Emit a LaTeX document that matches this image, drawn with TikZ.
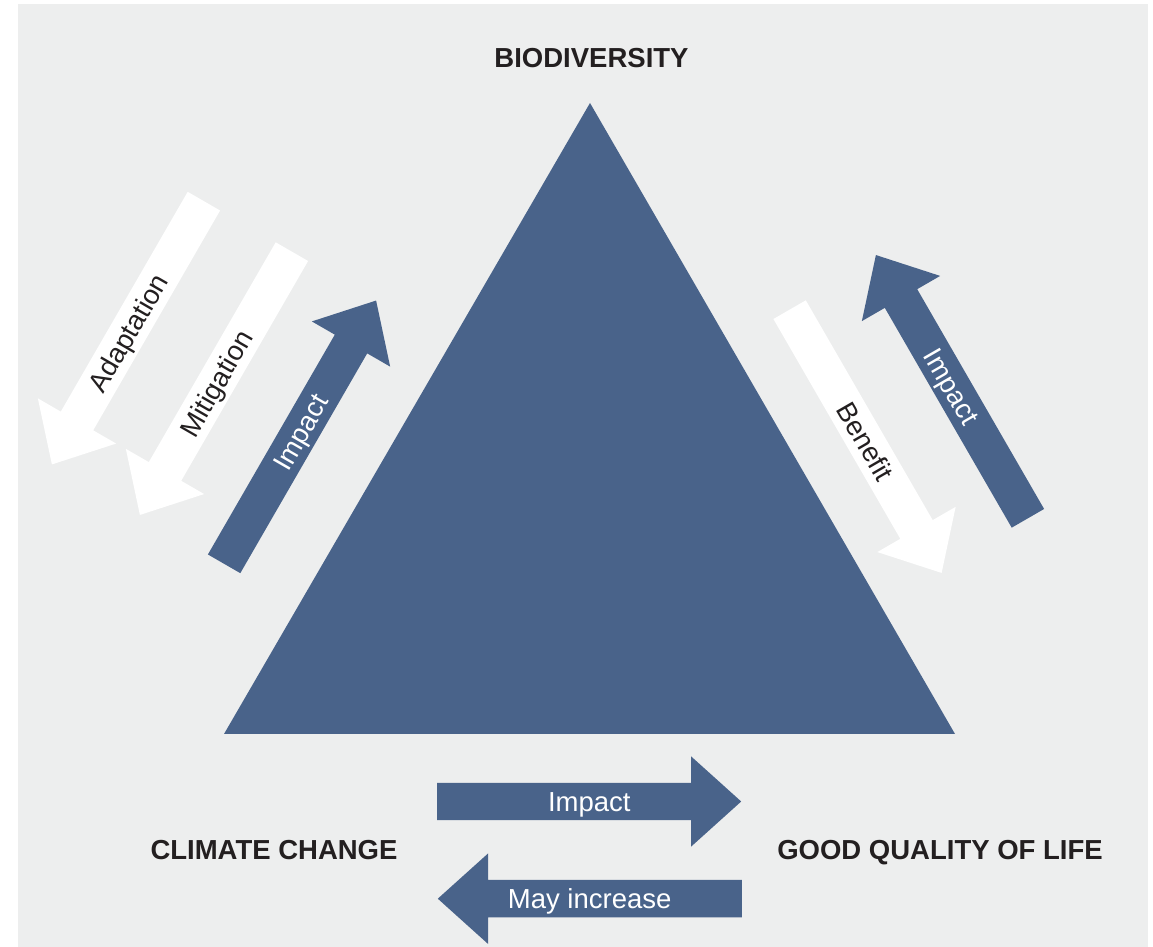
\documentclass[tikz,border=0pt]{standalone}
\usepackage{fontspec}
\setmainfont{Liberation Sans}
\usetikzlibrary{shapes.arrows}

\definecolor{ipbblue}{RGB}{73,99,138}
\definecolor{ipbgray}{RGB}{237,238,238}
\definecolor{ipbtext}{RGB}{35,31,32}

\begin{document}
\begin{tikzpicture}[
    x=1pt, y=1pt,
    corner/.style={font=\fontsize{27.5}{33}\selectfont\bfseries, text=ipbtext, anchor=base},
    flow/.style={single arrow, single arrow tip angle=84,
        single arrow head extend=26.5pt, minimum height=304pt,
        inner xsep=0pt, inner ysep=2.5pt, text height=26pt, text depth=6pt,
        font=\fontsize{27.5}{33}\selectfont, anchor=tail},
    bluearrow/.style={flow, fill=ipbblue, text=white},
    whitearrow/.style={flow, fill=white, text=ipbtext}
]
    \useasboundingbox (0,0) rectangle (1153,947);
    \fill[ipbgray] (18,0) rectangle (1148,943);

    % the triangle
    \coordinate (top) at (590,844);
    \coordinate (left) at (224,213);
    \coordinate (right) at (955,213);
    \fill[ipbblue] (top) -- (left) -- (right) -- cycle;

    % corner labels
    \node[corner] (bio) at (591.5,879) {BIODIVERSITY};
    \node[corner] (climate) at (274,87) {CLIMATE CHANGE};
    \node[corner] (life) at (940,87) {GOOD QUALITY OF LIFE};

    % pad on the tail side keeps the label in the middle of the arrow
    \def\pad{\hspace*{21pt}}

    % left side: climate change <-> biodiversity
    \node[whitearrow, rotate=60, shape border rotate=180] (adapt) at (204,746) {Adaptation\pad};
    \node[whitearrow, rotate=60, shape border rotate=180] (mitig) at (292,695.5) {Mitigation\pad};
    \node[bluearrow, rotate=60] (impactleft) at (224,383) {\pad Impact};

    % right side: biodiversity <-> good quality of life
    \node[whitearrow, rotate=-60] (benefit) at (789.5,637.5) {\pad Benefit};
    \node[bluearrow, rotate=-60, shape border rotate=180] (impactright) at (1028,428.5) {Impact\pad};

    % bottom: climate change <-> good quality of life
    \node[bluearrow] (impactbottom) at (437,145.5) {\pad Impact};
    \node[bluearrow, shape border rotate=180] (increase) at (742,48.3) {May increase\pad};

\end{tikzpicture}
\end{document}
